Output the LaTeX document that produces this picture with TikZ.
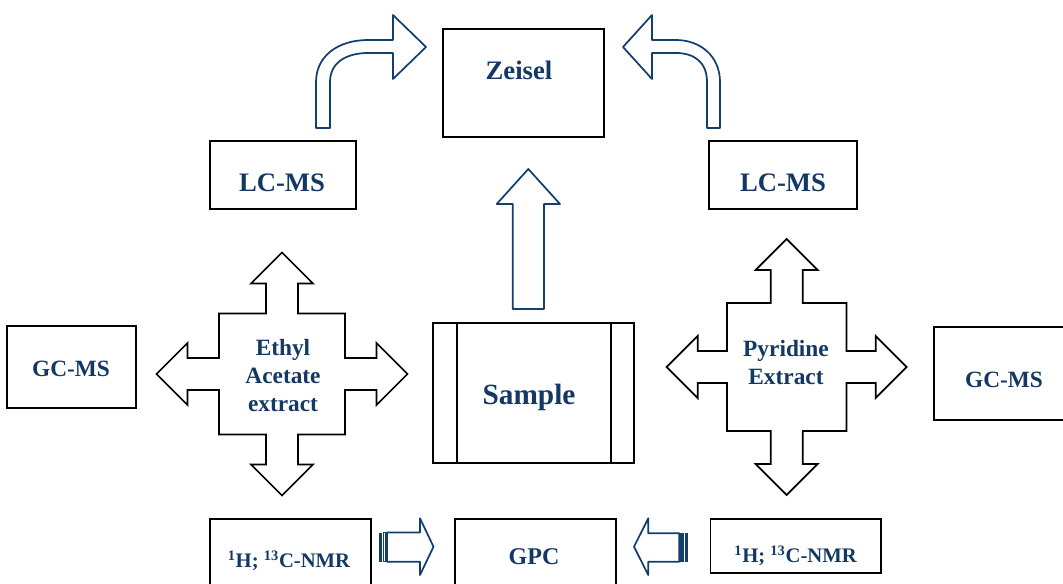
\documentclass[tikz,border=0pt]{standalone}
\usepackage{fontspec}
\setmainfont{Liberation Serif}
\usepackage{xcolor}
\definecolor{textblue}{RGB}{20,56,100}
\definecolor{navy}{RGB}{18,62,112}

% outline of a four-way block arrow round a centre
\newcommand{\crossarrow}[5]{%
  \draw[crossline, shift={(#1)}]
    (0,-#5) -- (31,-#5+31) -- (16,-#5+31) -- (16,-#3) -- (#2,-#3) -- (#2,-16)
    -- (#4-31,-16) -- (#4-31,-31) -- (#4,0) -- (#4-31,31) -- (#4-31,16) -- (#2,16)
    -- (#2,#3) -- (16,#3) -- (16,#5-31) -- (31,#5-31) -- (0,#5) -- (-31,#5-31)
    -- (-16,#5-31) -- (-16,#3) -- (-#2,#3) -- (-#2,16) -- (-#4+31,16) -- (-#4+31,31)
    -- (-#4,0) -- (-#4+31,-31) -- (-#4+31,-16) -- (-#2,-16) -- (-#2,-#3) -- (-16,-#3)
    -- (-16,-#5+31) -- (-31,-#5+31) -- cycle;}

\begin{document}
\begin{tikzpicture}[
x=0.75pt, y=-0.75pt,
box/.style={draw, line width=1.4pt},
lbl/.style={text=textblue, align=center, inner sep=0pt,
font=\bfseries\fontsize{17.5}{21}\selectfont},
biglbl/.style={lbl, font=\bfseries\fontsize{20}{24}\selectfont},
nmrlbl/.style={lbl, font=\bfseries\fontsize{15.5}{18}\selectfont},
blockarrow/.style={draw=navy, line width=1.3pt, line join=round},
crossline/.style={draw=black, line width=1.3pt}
]
\clip (0,0) rectangle (1063,583);

% boxes
\node[box, minimum width=120.3pt, minimum height=81pt] (zeisel) at (523.5,83.3) {};
\node[biglbl] (zeiseltxt) at (519,70) {Zeisel};

\node[box, minimum width=109.5pt, minimum height=51pt] (lcmsL) at (283,175) {};
\node[biglbl] (lcmsLtxt) at (282,183) {LC-MS};
\node[box, minimum width=111pt, minimum height=51pt] (lcmsR) at (783,175) {};
\node[biglbl] (lcmsRtxt) at (783,183) {LC-MS};

\node[box, minimum width=96.8pt, minimum height=61.5pt] (gcmsL) at (71.5,367) {};
\node[lbl] (gcmsLtxt) at (71,369) {GC-MS};
\node[box, minimum width=105.8pt, minimum height=69.8pt] (gcmsR) at (1004.5,373.5) {};
\node[lbl] (gcmsRtxt) at (1004,380) {GC-MS};

\node[box, minimum width=151.2pt, minimum height=104.6pt] (sample) at (533.5,393) {};
\draw[box] (456.7,323.3) -- (456.7,462.7);
\draw[box] (610.7,323.3) -- (610.7,462.7);
\node[lbl, font=\bfseries\fontsize{22}{26}\selectfont] (sampletxt) at (529,397) {Sample};

\node[box, minimum width=120.8pt, minimum height=60.8pt] (nmrL) at (290.5,559.5) {};
\node[nmrlbl] (nmrLtxt) at (289,560.5) {\textsuperscript{1}H; \textsuperscript{13}C-NMR};
\node[box, minimum width=120.5pt, minimum height=60.8pt] (gpc) at (535.3,559.5) {};
\node[lbl, font=\bfseries\fontsize{18}{22}\selectfont] (gpctxt) at (534,557) {GPC};
\node[box, minimum width=127.9pt, minimum height=40.5pt] (nmrR) at (795.8,546) {};
\node[nmrlbl] (nmrRtxt) at (795.6,555.5) {\textsuperscript{1}H; \textsuperscript{13}C-NMR};

% extracts
\node[lbl] (ethyl) at (283,375.5) {Ethyl\\Acetate\\extract};
\crossarrow{282,374}{63}{60.5}{125.5}{121.5}
\node[lbl] (pyridine) at (786,363) {Pyridine\\Extract};
\crossarrow{786.7,367}{59.7}{64}{120}{128}

% block arrows
\draw[blockarrow] (512.7,309) -- (512.7,204) -- (496.7,204) -- (528.3,169)
  -- (560,204) -- (544,204) -- (544,309) -- cycle;

\draw[blockarrow] (316,128) -- (316,82) .. controls (316,56) and (338,40) .. (368,40)
  -- (393,40) -- (393,15) -- (426,47) -- (393,79) -- (393,53) -- (368,53)
  .. controls (347,53) and (330,62) .. (330,82) -- (330,128) -- cycle;
\draw[blockarrow] (720,128) -- (720,82) .. controls (720,56) and (700,40) .. (676,40)
  -- (652,40) -- (652,15) -- (623,47) -- (652,79) -- (652,53) -- (676,53)
  .. controls (694,53) and (707,62) .. (707,82) -- (707,128) -- cycle;

\fill[navy] (379,532.5) rectangle (382,561.7);
\draw[navy, line width=0.8pt] (383.6,532.5) rectangle (385.4,561.7);
\draw[blockarrow] (387,532.5) -- (420,532.5) -- (420,518.3) -- (433.5,546.7)
  -- (420,575) -- (420,561.7) -- (387,561.7) -- cycle;

\fill[navy] (685,533.3) rectangle (688.3,561.7);
\draw[navy, line width=0.8pt] (681,533.3) rectangle (683,561.7);
\draw[blockarrow] (679.3,533.3) -- (648.3,533.3) -- (648.3,518.3) -- (634,546.7)
  -- (648.3,575) -- (648.3,561.7) -- (679.3,561.7) -- cycle;

\end{tikzpicture}
\end{document}
